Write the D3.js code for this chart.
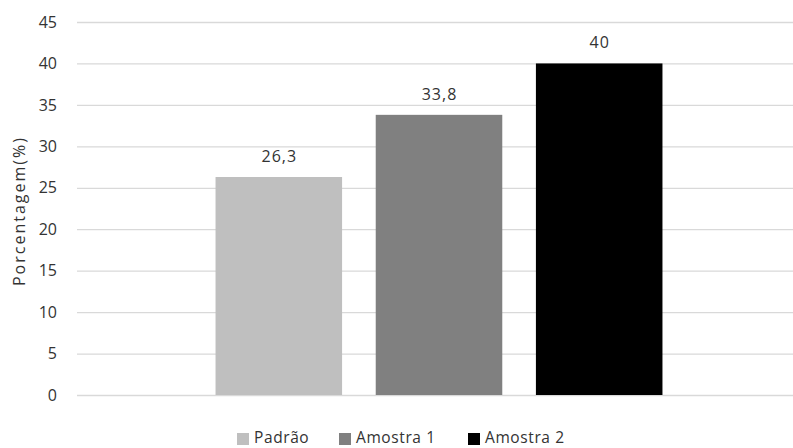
<!DOCTYPE html>
<html><head><meta charset="utf-8">
<script src="https://cdn.jsdelivr.net/npm/d3@7"></script>
<style>body{margin:0;background:#fff}</style>
</head><body>
<svg id="c" width="793" height="448"></svg>
<script>
const categories = [""];
const seriesNames = ["Padrão", "Amostra 1", "Amostra 2"];
const seriesValues = [26.3, 33.8, 40];
const valueLabels = ["26,3", "33,8", "40"];
const seriesColors = ["#bfbfbf", "#808080", "#000000"];
const yTicks = [0, 5, 10, 15, 20, 25, 30, 35, 40, 45];
const yTitle = "Porcentagem(%)";

(function () {
const svg = d3.select("#c");
const font = "'Open Sans', sans-serif";
const txt = "#333333";
const pLeft = 77, pRight = 801, pTop = 22, pBottom = 395;

const y = d3.scaleLinear().domain([0, 45]).range([pBottom, pTop]);
const x0 = d3.scaleBand().domain(categories).range([pLeft, pRight]).paddingOuter(0.204).paddingInner(0);
const x1 = d3.scaleBand().domain(seriesNames).range([0, x0.bandwidth()]).padding(0.21);

// gridlines
const yAxis = d3.axisLeft(y).tickValues(yTicks).tickSize(-(pRight - pLeft)).tickPadding(20);
const g = svg.append("g").attr("transform", `translate(${pLeft},0)`).call(yAxis);
g.select(".domain").remove();
g.selectAll(".tick line").attr("stroke", "#d9d9d9").attr("stroke-width", 1.3);
g.selectAll(".tick text").attr("fill", txt).style("font-family", font).style("font-size", "16px");

// bars
const grp = svg.append("g");
categories.forEach(c => {
  seriesNames.forEach((s, i) => {
    const xs = x0(c) + x1(s);
    grp.append("rect")
      .attr("x", xs).attr("y", y(seriesValues[i]))
      .attr("width", x1.bandwidth()).attr("height", y(0) - y(seriesValues[i]))
      .attr("fill", seriesColors[i]);
    grp.append("text")
      .attr("x", xs + x1.bandwidth() / 2 + 0.5).attr("y", y(seriesValues[i]) - 15)
      .attr("text-anchor", "middle").attr("fill", txt)
      .style("font-family", font).style("font-size", "16px").style("letter-spacing", "1px")
      .text(valueLabels[i]);
  });
});

// y title
svg.append("text")
  .attr("transform", `translate(25,211) rotate(-90)`)
  .attr("text-anchor", "middle").attr("fill", txt)
  .style("font-family", font).style("font-size", "16px").style("letter-spacing", "2px")
  .text(yTitle);

// legend
const legX = [237, 339, 468];
seriesNames.forEach((s, i) => {
  svg.append("rect").attr("x", legX[i]).attr("y", 433).attr("width", 12).attr("height", 12).attr("fill", seriesColors[i]);
  svg.append("text").attr("x", legX[i] + 17).attr("y", 443)
    .attr("fill", txt).style("font-family", font).style("font-size", "15.5px").style("letter-spacing", "0.6px")
    .text(s);
});
})();
</script>
</body></html>
